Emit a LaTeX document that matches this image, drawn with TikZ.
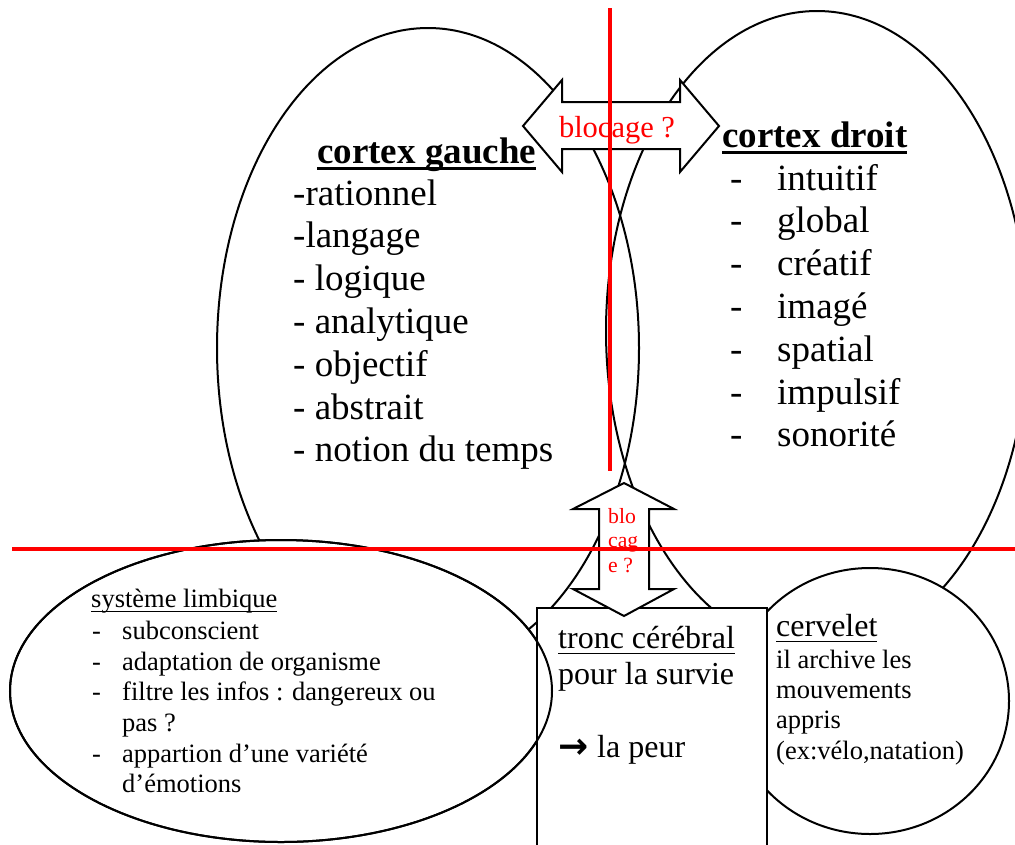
\documentclass[tikz,border=0pt]{standalone}
\usepackage{fontspec}
\setmainfont{Liberation Serif}
\newfontfamily\symfont{DejaVu Sans}
\newcommand\myul[2][0.06em]{\setbox0\hbox{#2}\rlap{\rule[-0.2em]{\wd0}{#1}}\box0}
\tikzset{
  shapeline/.style={draw=black, line width=2pt},
  whiteshape/.style={shapeline, fill=white},
  redline/.style={draw=red, line width=4pt},
  big/.style={font=\fontsize{37}{43}\selectfont, anchor=base west, inner sep=0pt},
  mid/.style={font=\fontsize{32}{37}\selectfont, anchor=base west, inner sep=0pt},
  small/.style={font=\fontsize{26.5}{30}\selectfont, anchor=base west, inner sep=0pt},
  redtxt/.style={text=red, inner sep=0pt},
}
\begin{document}
\begin{tikzpicture}[x=1pt,y=-1pt]
\useasboundingbox (0,0) rectangle (1015,844);
\clip (0,0) rectangle (1015,844);
% cortex ellipses
\draw[shapeline] (428,348) ellipse [x radius=211pt, y radius=320pt];
\draw[shapeline] (817,331) ellipse [x radius=211pt, y radius=320pt];
% cortex gauche text
\node[big, font=\fontsize{37}{43}\selectfont\bfseries] (cg) at (317,163) {\myul[0.08em]{cortex gauche}};
\foreach \t [count=\i] in {-rationnel,-langage,- logique,- analytique,- objectif,- abstrait,- notion du temps}
  \node[big] (gl\i) at (293,{205+(\i-1)*42.8}) {\t};
% cortex droit text
\node[big, font=\fontsize{37}{43}\selectfont\bfseries] (cd) at (722,147) {\myul[0.08em]{cortex droit}};
\foreach \t [count=\i] in {intuitif,global,créatif,imagé,spatial,impulsif,sonorité}
  \node[big] (dr\i) at (730,{190+(\i-1)*42.8}) {\makebox[47pt][l]{-}\t};
% limbic, cervelet, tronc
\draw[whiteshape] (281,691) ellipse [x radius=271pt, y radius=151pt];
\draw[whiteshape] (870,701) ellipse [x radius=139pt, y radius=133pt];
\fill[white] (537,608) rectangle (767,850);
\draw[shapeline] (537,850) -- (537,608) -- (767,608) -- (767,850);
\draw[shapeline] (281,691) ellipse [x radius=271pt, y radius=151pt];
% blocage arrows
\draw[whiteshape] (523,126) -- (562,80) -- (562,102) -- (680,102) -- (680,80) -- (719,126)
  -- (680,172) -- (680,149) -- (562,149) -- (562,172) -- cycle;
\draw[whiteshape] (624,483) -- (674,509) -- (649,509) -- (649,589) -- (674,589) -- (624,616)
  -- (573,589) -- (599,589) -- (599,509) -- (573,509) -- cycle;
\node[redtxt, anchor=base, font=\fontsize{30.5}{34}\selectfont] (bh) at (617,137) {blocage ?};
\node[redtxt, anchor=base west, font=\fontsize{21.7}{24}\selectfont] (bv1) at (608,523) {blo};
\node[redtxt, anchor=base west, font=\fontsize{21.7}{24}\selectfont] (bv2) at (608,547) {cag};
\node[redtxt, anchor=base west, font=\fontsize{21.7}{24}\selectfont] (bv3) at (608,572) {e ?};
% limbic text
\node[small] (l0) at (91,607) {\myul[0.055em]{système limbique}};
\node[small] (l1) at (92,639) {\makebox[30pt][l]{-}subconscient};
\node[small] (l2) at (92,670) {\makebox[30pt][l]{-}adaptation de organisme};
\node[small] (l3) at (92,700) {\makebox[30pt][l]{-}filtre les infos : dangereux ou};
\node[small] (l4) at (122,731) {pas ?};
\node[small] (l5) at (92,762) {\makebox[30pt][l]{-}appartion d’une variété};
\node[small] (l6) at (122,792) {d’émotions};
% tronc text
\node[mid] (t0) at (558,648) {\myul[0.055em]{tronc cérébral}};
\node[mid] (t1) at (558,684) {pour la survie};
\node[mid] (t2) at (558,757) {\makebox[39pt][l]{\raisebox{-1pt}{\symfont\bfseries\fontsize{36}{38}\selectfont →}}la peur};
% cervelet text
\node[mid] (c0) at (776,636) {\myul[0.055em]{cervelet}};
\node[small] (c1) at (776,668) {il archive les};
\node[small] (c2) at (776,698) {mouvements};
\node[small] (c3) at (776,728) {appris};
\node[small] (c4) at (776,759) {(ex:vélo,natation)};
% red lines
\draw[redline] (610,8) -- (610,471);
\draw[redline] (12,549) -- (1015,549);
\end{tikzpicture}
\end{document}
